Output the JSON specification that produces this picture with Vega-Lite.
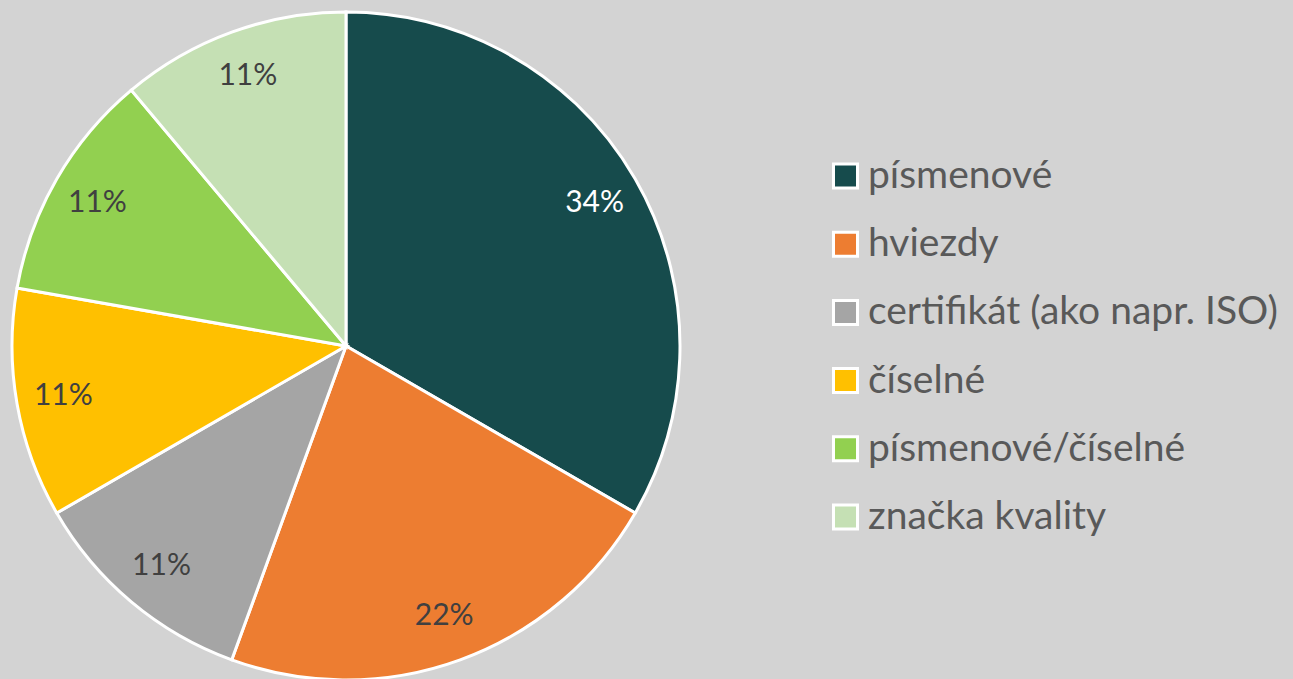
{
  "$schema": "https://vega.github.io/schema/vega-lite/v6.json",
  "width": 692,
  "height": 692,
  "padding": {"left": 0, "top": 0, "right": 200, "bottom": 0},
  "autosize": {"type": "pad"},
  "background": "#d3d3d3",
  "config": {"view": {"stroke": null}, "font": "Lato"},
  "data": {
    "values": [
      {"rank": 1, "category": "písmenové", "count": 3, "label": "34%"},
      {"rank": 2, "category": "hviezdy", "count": 2, "label": "22%"},
      {"rank": 3, "category": "certifikát (ako napr. ISO)", "count": 1, "label": "11%"},
      {"rank": 4, "category": "číselné", "count": 1, "label": "11%"},
      {"rank": 5, "category": "písmenové/číselné", "count": 1, "label": "11%"},
      {"rank": 6, "category": "značka kvality", "count": 1, "label": "11%"}
    ]
  },
  "encoding": {
    "theta": {"field": "count", "type": "quantitative", "stack": true},
    "order": {"field": "rank", "type": "quantitative"}
  },
  "layer": [
    {
      "mark": {"type": "arc", "outerRadius": 334, "stroke": "white", "strokeWidth": 3},
      "encoding": {
        "color": {
          "field": "category",
          "type": "nominal",
          "sort": ["písmenové", "hviezdy", "certifikát (ako napr. ISO)", "číselné", "písmenové/číselné", "značka kvality"],
          "scale": {
            "domain": ["písmenové", "hviezdy", "certifikát (ako napr. ISO)", "číselné", "písmenové/číselné", "značka kvality"],
            "range": ["#164b4c", "#ed7d31", "#a5a5a5", "#ffc000", "#92d050", "#c5e0b4"]
          },
          "legend": {
            "title": null,
            "orient": "none",
            "legendX": 826,
            "legendY": 156.5,
            "symbolType": "square",
            "symbolSize": 576,
            "symbolStrokeColor": "white",
            "symbolStrokeWidth": 3,
            "symbolOpacity": 1,
            "labelFont": "Lato",
            "labelFontSize": 39,
            "labelColor": "#595959",
            "labelOffset": 3,
            "labelLimit": 700,
            "rowPadding": 28.2
          }
        }
      }
    },
    {
      "mark": {"type": "text", "radius": 287, "fontSize": 30, "font": "Lato"},
      "encoding": {
        "text": {"field": "label", "type": "nominal"},
        "color": {
          "condition": {"test": "datum.category === 'písmenové'", "value": "white"},
          "value": "#404040"
        }
      }
    }
  ]
}
